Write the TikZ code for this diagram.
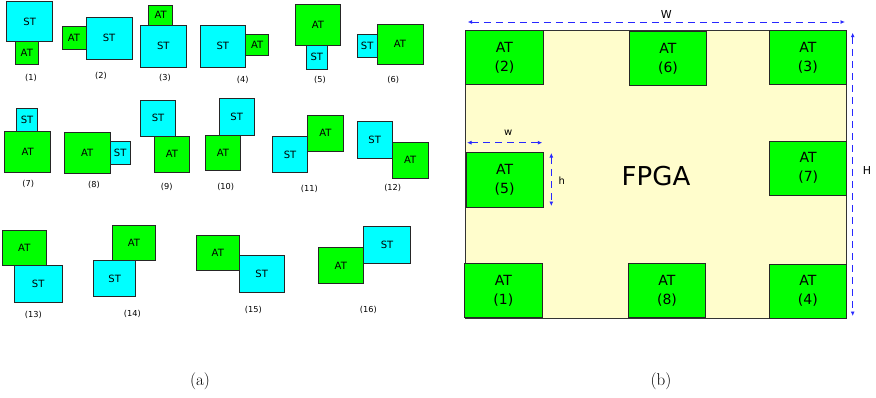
\documentclass[tikz,border=0pt]{standalone}
\usepackage{fontspec}
\usetikzlibrary{arrows.meta}
\newfontfamily\dv{DejaVu Sans}
\definecolor{atg}{RGB}{0,255,0}
\definecolor{stc}{RGB}{0,255,255}
\definecolor{fpgabg}{RGB}{255,253,204}
\definecolor{dimblue}{RGB}{40,40,255}
\newcommand\mybox[7]{\node[#1, minimum width={#4pt-#2pt}, minimum height={#5pt-#3pt}] (#7) at ({(#2+#4)/2},{(#3+#5)/2}) {#6};}
\tikzset{
  basebox/.style={draw=black!85, line width=0.8pt, inner sep=0pt, outer sep=0pt, font=\dv\fontsize{10}{12}\selectfont},
  atbox/.style={basebox, fill=atg},
  stbox/.style={basebox, fill=stc},
  bigat/.style={basebox, fill=atg, align=center, font=\dv\fontsize{14}{19}\selectfont},
  subcap/.style={font=\dv\fontsize{8.2}{10}\selectfont, inner sep=0pt},
  dimlbl/.style={font=\dv\fontsize{11}{13}\selectfont, inner sep=0pt},
  dimline/.style={dimblue, dash pattern=on 7pt off 5pt, line width=1pt, {Latex[length=4.5pt,width=4pt]}-{Latex[length=4.5pt,width=4pt]}},
}
\begin{document}
\begin{tikzpicture}[x=1pt,y=-1pt]
\useasboundingbox (0,0) rectangle (876,397);
% ---- panel (a) ----
% (1)
\mybox{stbox}{6.7}{1.7}{52.7}{41.3}{ST}{s1}
\mybox{atbox}{15.3}{41.3}{38.3}{64}{AT}{a1}
\node[subcap] (c1) at (31,78) {(1)};
% (2)
\mybox{atbox}{62}{26}{86}{49.3}{AT}{a2}
\mybox{stbox}{86}{17.3}{132}{59.3}{ST}{s2}
\node[subcap] (c2) at (101,76) {(2)};
% (3)
\mybox{atbox}{148.7}{5.3}{172.7}{25.3}{AT}{a3}
\mybox{stbox}{140.3}{25.3}{186.3}{67}{ST}{s3}
\node[subcap] (c3) at (165,78) {(3)};
% (4)
\mybox{stbox}{200}{25.3}{245.7}{67.3}{ST}{s4}
\mybox{atbox}{245.7}{34}{268.7}{55.3}{AT}{a4}
\node[subcap] (c4) at (242.7,80) {(4)};
% (5)
\mybox{atbox}{295.3}{4.3}{340.7}{45.3}{AT}{a5}
\mybox{stbox}{306.7}{45.3}{327}{69.3}{ST}{s5}
\node[subcap] (c5) at (320,80) {(5)};
% (6)
\mybox{stbox}{357.3}{34}{377}{57.3}{ST}{s6}
\mybox{atbox}{377}{24}{423}{64}{AT}{a6}
\node[subcap] (c6) at (393.3,80) {(6)};
% (7)
\mybox{stbox}{16.7}{108.3}{37.3}{131.7}{ST}{s7}
\mybox{atbox}{4.7}{131.7}{50.7}{172.7}{AT}{a7}
\node[subcap] (c7) at (28.3,184.3) {(7)};
% (8)
\mybox{atbox}{64.3}{132.3}{110}{173.3}{AT}{a8}
\mybox{stbox}{110}{141}{130.3}{164.3}{ST}{s8}
\node[subcap] (c8) at (94,185) {(8)};
% (9)
\mybox{stbox}{140.3}{100}{175.7}{136.7}{ST}{s9}
\mybox{atbox}{154.3}{136.7}{189.7}{172}{AT}{a9}
\node[subcap] (c9) at (166.7,187) {(9)};
% (10)
\mybox{stbox}{219}{98}{254.3}{135}{ST}{s10}
\mybox{atbox}{205.3}{135}{240.7}{170.7}{AT}{a10}
\node[subcap] (c10) at (225.7,186.7) {(10)};
% (11)
\mybox{stbox}{272.3}{136.3}{307.7}{172.7}{ST}{s11}
\mybox{atbox}{307.7}{115.7}{343.3}{151}{AT}{a11}
\node[subcap] (c11) at (309.3,189.3) {(11)};
% (12)
\mybox{stbox}{357}{121.7}{392.3}{158.3}{ST}{s12}
\mybox{atbox}{392.3}{142.7}{428}{178}{AT}{a12}
\node[subcap] (c12) at (392.7,187.7) {(12)};
% (13)
\mybox{atbox}{2.3}{230}{46.3}{265.7}{AT}{a13}
\mybox{stbox}{14.3}{265.7}{62}{302.3}{ST}{s13}
\node[subcap] (c13) at (33.3,315) {(13)};
% (14)
\mybox{atbox}{112.7}{225}{155.3}{260.3}{AT}{a14}
\mybox{stbox}{93.7}{260.3}{135.7}{296.7}{ST}{s14}
\node[subcap] (c14) at (132.3,313.7) {(14)};
% (15)
\mybox{atbox}{196.3}{235}{239.3}{270.3}{AT}{a15}
\mybox{stbox}{239.3}{255.7}{284}{292.3}{ST}{s15}
\node[subcap] (c15) at (253.3,310.3) {(15)};
% (16)
\mybox{atbox}{318.3}{247.7}{363.3}{283.3}{AT}{a16}
\mybox{stbox}{363.3}{226.7}{410.7}{263.3}{ST}{s16}
\node[subcap] (c16) at (368.3,310) {(16)};
\node[font=\fontsize{17}{20}\selectfont, inner sep=0pt] (la) at (200,381) {(a)};
% ---- panel (b) ----
\mybox{basebox, fill=fpgabg, draw=black!80}{465.7}{30.7}{846.7}{318.3}{}{fpga}
\node[font=\dv\fontsize{26}{30}\selectfont, inner sep=0pt] (ftxt) at (656,176) {FPGA};
\mybox{bigat}{465.7}{30.7}{543.3}{84.3}{AT\\(2)}{b2}
\mybox{bigat}{629.3}{31.7}{706.7}{85.7}{AT\\(6)}{b6}
\mybox{bigat}{769}{30.7}{846.7}{84.3}{AT\\(3)}{b3}
\mybox{bigat}{466}{152.7}{543.3}{207.3}{AT\\(5)}{b5}
\mybox{bigat}{769.7}{141}{846.7}{195.3}{AT\\(7)}{b7}
\mybox{bigat}{464.3}{263.3}{542.3}{317.7}{AT\\(1)}{b1}
\mybox{bigat}{628.3}{263.3}{705.7}{317.7}{AT\\(8)}{b8}
\mybox{bigat}{769}{264}{846.7}{318.3}{AT\\(4)}{b4}
% dimensions
\coordinate (Wl) at (467.7,22);
\coordinate (Wr) at (845,22);
\draw[dimline] (Wl) -- (Wr);
\node[dimlbl] (Wt) at (666.3,14) {W};
\coordinate (Ht) at (852.7,32.7);
\coordinate (Hb) at (852.7,316);
\draw[dimline] (Ht) -- (Hb);
\node[dimlbl] (Hl) at (867,170) {H};
\coordinate (wl) at (467,142.7);
\coordinate (wr) at (542.3,142.7);
\draw[dimline] (wl) -- (wr);
\node[dimlbl, font=\dv\fontsize{10}{12}\selectfont] (wt) at (508.3,133) {w};
\coordinate (ht) at (551.3,153);
\coordinate (hb) at (551.3,206);
\draw[dimline] (ht) -- (hb);
\node[dimlbl, font=\dv\fontsize{10}{12}\selectfont] (hl) at (561.7,181) {h};
\node[font=\fontsize{17}{20}\selectfont, inner sep=0pt] (lb) at (661,381) {(b)};
\end{tikzpicture}
\end{document}
